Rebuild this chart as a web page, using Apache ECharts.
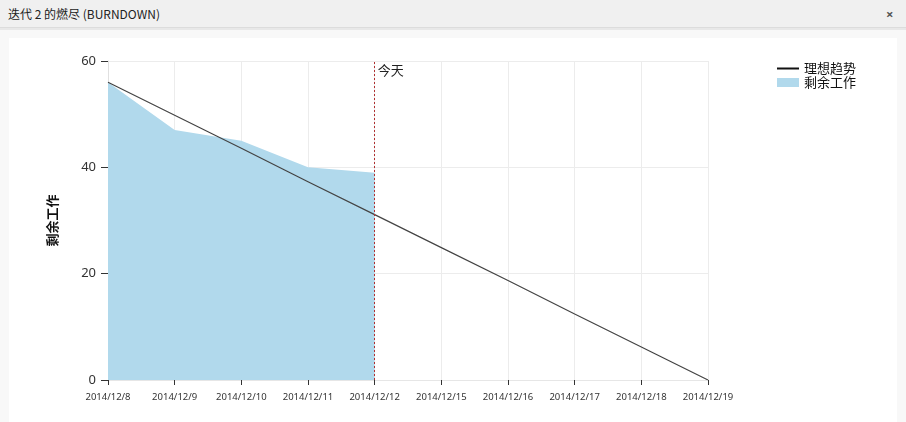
<!DOCTYPE html>
<html>
<head>
<meta charset="utf-8">
<script src="https://cdn.jsdelivr.net/npm/echarts@6/dist/echarts.min.js"></script>
<style>
html,body{margin:0;padding:0;width:906px;height:422px;overflow:hidden;background:#f8f8f8;font-family:"Noto Sans","Noto Sans CJK SC",sans-serif;}
#bar{position:absolute;left:0;top:0;width:906px;height:27px;background:#f0f0f0;border-bottom:1px solid #dcdcdc;box-shadow:0 2px 0 #e8e8e8;}
#title{position:absolute;left:8px;top:5px;font-size:12px;color:#222;font-family:"Noto Sans CJK SC","Noto Sans",sans-serif;}
#close{position:absolute;left:886px;top:5px;font-size:13px;color:#555;font-weight:bold;}
#panel{position:absolute;left:9px;top:38px;width:888px;height:400px;background:#fff;}
#chart{position:absolute;left:0;top:0;width:906px;height:422px;}
</style>
</head>
<body>
<div id="bar"><span id="title">迭代 2 的燃尽 (BURNDOWN)</span><span id="close">×</span></div>
<div id="panel"></div>
<div id="chart"></div>
<script>
var categories = ['2014/12/8','2014/12/9','2014/12/10','2014/12/11','2014/12/12','2014/12/15','2014/12/16','2014/12/17','2014/12/18','2014/12/19'];
var remainingWork = [56, 47, 45, 40, 39];
var idealTrend = [56, 49.8, 43.6, 37.3, 31.1, 24.9, 18.7, 12.4, 6.2, 0];
var yTicks = [0, 20, 40, 60];
var todayLabel = '今天';
var todayCategory = '2014/12/12';

var chart = echarts.init(document.getElementById('chart'), null, {renderer:'canvas'});
var cjk = '"Noto Sans CJK SC","Noto Sans",sans-serif';
chart.setOption({
  animation:false,
  backgroundColor:'transparent',
  textStyle:{fontFamily:cjk},
  grid:{left:108, right:198, top:61, bottom:42, containLabel:false},
  legend:{
    orient:'vertical', left:771, top:57, itemGap:1, itemWidth:22, itemHeight:9,
    textStyle:{fontSize:13, color:'#111', fontFamily:cjk},
    data:[
      {name:'理想趋势', itemStyle:{color:'transparent', borderWidth:0, opacity:0}, lineStyle:{width:2, color:'#111', opacity:1}},
      {name:'剩余工作', icon:'rect'}
    ]
  },
  xAxis:{
    type:'category', boundaryGap:false, data:categories,
    axisLine:{show:true, lineStyle:{color:'#e6e6e6'}},
    axisTick:{show:true, length:5, lineStyle:{color:'#333'}},
    axisLabel:{fontSize:9.5, color:'#333', margin:12, fontFamily:'"Noto Sans",sans-serif', interval:0},
    splitLine:{show:true, lineStyle:{color:'#ececec'}}
  },
  yAxis:{
    type:'value', min:yTicks[0], max:yTicks[yTicks.length-1], interval:20,
    name:'剩余工作', nameLocation:'middle', nameGap:49,
    nameTextStyle:{fontSize:13, fontWeight:'bold', color:'#111', fontFamily:cjk},
    axisLine:{show:true, lineStyle:{color:'#e0e0e0'}},
    axisTick:{show:true, length:7, lineStyle:{color:'#333'}},
    axisLabel:{fontSize:13, color:'#333', margin:12, fontFamily:'"Noto Sans",sans-serif'},
    splitLine:{show:true, lineStyle:{color:'#ececec'}}
  },
  series:[
    {
      name:'剩余工作', type:'line', data:remainingWork, symbol:'none', showSymbol:false,
      itemStyle:{color:'#b1d9ec'},
      lineStyle:{width:0, color:'#b1d9ec'},
      areaStyle:{color:'#b1d9ec', opacity:1},
      z:1,
      markLine:{
        silent:true, symbol:['none','none'],
        lineStyle:{color:'#b03030', type:[2,2], width:1},
        label:{show:false},
        data:[{xAxis:todayCategory}]
      },
      markPoint:{
        symbol:'circle', symbolSize:0,
        label:{show:true, formatter:todayLabel, position:'right', offset:[-2,9], fontSize:13, color:'#222', fontFamily:cjk},
        data:[{coord:[todayCategory, 60]}]
      }
    },
    {
      name:'理想趋势', type:'line', data:idealTrend, symbol:'none', showSymbol:false,
      itemStyle:{color:'#333'},
      lineStyle:{width:1.2, color:'#444'},
      z:3
    }
  ]
});
</script>
</body>
</html>
